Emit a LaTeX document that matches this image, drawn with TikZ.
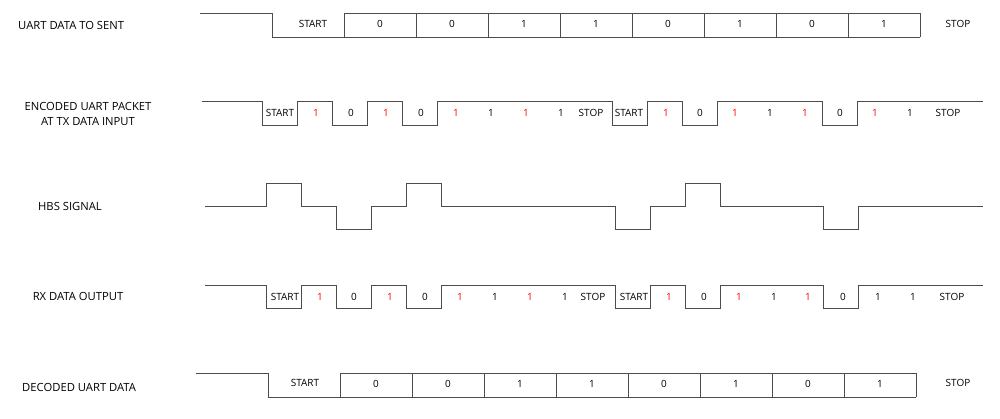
\documentclass[tikz,border=0pt]{standalone}
\usepackage{fontspec}
\setmainfont{Open Sans}
\usetikzlibrary{positioning}

\begin{document}
\begin{tikzpicture}[x=0.03cm,y=-0.03cm,
    wave/.style={draw=black!70,line width=0.6pt},
    lbl/.style={font=\fontsize{8.5}{10}\selectfont,inner sep=0pt},
    ttl/.style={font=\fontsize{9.6}{12}\selectfont,inner sep=0pt},
    bitlbl/.style={lbl,text=black},
    redbit/.style={lbl,text=red}]
	   \useasboundingbox (0,0) rectangle (1000,419);
	   % row titles
	   \node (t1) at (18,25) [ttl,anchor=west] {UART DATA TO SENT};
	   \node (t2) at (88,114) [ttl,align=center] {ENCODED UART PACKET\\AT TX DATA INPUT};
	   \node (t3) at (70,206) [ttl] {HBS SIGNAL};
	   \node (t4) at (78,296) [ttl] {RX DATA OUTPUT};
	   \node (t5) at (22,387) [ttl,anchor=west] {DECODED UART DATA};
	   % uart data
	   \draw [wave] (200,13) -- (272,13) -- (272,37) -- (920,37);
	   \draw [wave] (344,13) -- (920,13);
	   \foreach \x in {344,416,...,920} {
	     \draw [wave] (\x,13) -- (\x,37);
	   }
	   \node (u0) at (313,24) [bitlbl] {START};
	   \foreach \b [count=\i] in {0,0,1,1,0,1,0,1} {
	     \node (u\i) at ({308+72*\i},24) [bitlbl] {\b};
	   }
	   \node (u9) at (958,24) [bitlbl] {STOP};
	   % encoded packet
	   \draw [wave] (202,101) -- (262,101) -- (262,125) -- (297,125) -- (297,101)
	     -- (332,101) -- (332,125) -- (367,125) -- (367,101) -- (402,101)
	     -- (402,125) -- (437,125) -- (437,101) -- (612,101) -- (612,125)
	     -- (647,125) -- (647,101) -- (682,101) -- (682,125) -- (717,125)
	     -- (717,101) -- (822,101) -- (822,125) -- (857,125) -- (857,101)
	     -- (983,101);
	   \node (e0) at (280,113) [bitlbl] {START};
	   \node (e9) at (591,113) [bitlbl] {STOP};
	   \node (e10) at (629,113) [bitlbl] {START};
	   \node (e19) at (948,113) [bitlbl] {STOP};
	   \foreach \x/\b/\s in {316/1/redbit,351/0/bitlbl,386/1/redbit,421/0/bitlbl,
	     456/1/redbit,491/1/bitlbl,526/1/redbit,561/1/bitlbl,
	     666/1/redbit,700/0/bitlbl,735/1/redbit,770/1/bitlbl,805/1/redbit,
	     840/0/bitlbl,875/1/redbit,910/1/bitlbl} {
	     \node (e\x) at (\x,113) [\s] {\b};
	   }
	   % hbs signal
	   \draw [wave] (205,206) -- (266,206) -- (266,183) -- (301,183) -- (301,206)
	     -- (336,206) -- (336,229) -- (371,229) -- (371,206) -- (406,206)
	     -- (406,183) -- (441,183) -- (441,206) -- (615,206) -- (615,229)
	     -- (650,229) -- (650,206) -- (685,206) -- (685,183) -- (720,183)
	     -- (720,206) -- (823,206) -- (823,229) -- (858,229) -- (858,206)
	     -- (983,206);
	   % rx data output
	   \draw [wave] (205,285) -- (266,285) -- (266,308) -- (301,308) -- (301,285)
	     -- (336,285) -- (336,308) -- (371,308) -- (371,285) -- (406,285)
	     -- (406,308) -- (441,308) -- (441,285) -- (615,285) -- (615,308)
	     -- (650,308) -- (650,285) -- (685,285) -- (685,308) -- (720,308)
	     -- (720,285) -- (823,285) -- (823,308) -- (858,308) -- (858,285)
	     -- (983,285);
	   \node (r0) at (285,297) [bitlbl] {START};
	   \node (r9) at (593,297) [bitlbl] {STOP};
	   \node (r10) at (634,297) [bitlbl] {START};
	   \node (r19) at (952,297) [bitlbl] {STOP};
	   \foreach \x/\b/\s in {320/1/redbit,354/0/bitlbl,390/1/redbit,425/0/bitlbl,
	     460/1/redbit,495/1/bitlbl,530/1/redbit,565/1/bitlbl,
	     669/1/redbit,704/0/bitlbl,739/1/redbit,774/1/bitlbl,808/1/redbit,
	     843/0/bitlbl,878/1/bitlbl,913/1/bitlbl} {
	     \node (r\x) at (\x,297) [\s] {\b};
	   }
	   % decoded data
	   \draw [wave] (196,373) -- (268,373) -- (268,397) -- (916,397);
	   \draw [wave] (340,373) -- (916,373);
	   \foreach \x in {340,412,...,916} {
	     \draw [wave] (\x,373) -- (\x,397);
	   }
	   \node (d0) at (305,383) [bitlbl] {START};
	   \foreach \b [count=\i] in {0,0,1,1,0,1,0,1} {
	     \node (d\i) at ({304+72*\i},384) [bitlbl] {\b};
	   }
	   \node (d9) at (958,383) [bitlbl] {STOP};
\end{tikzpicture}
\end{document}
